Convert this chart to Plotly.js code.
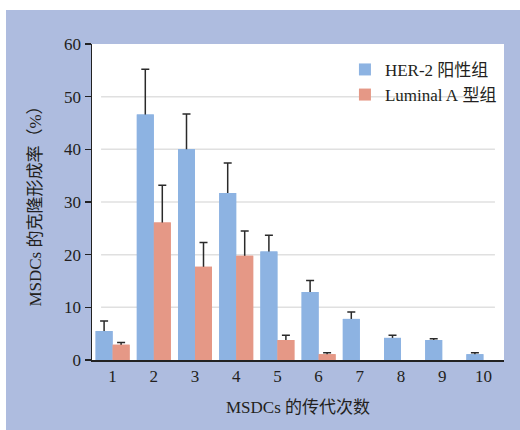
<!DOCTYPE html>
<html><head><meta charset="utf-8">
<script src="https://cdn.plot.ly/plotly-3.0.1.min.js"></script>
<style>html,body{margin:0;padding:0;background:#fff;}</style>
</head><body>
<div id="chart" style="width:520px;height:430px;"></div>
<script>
const passages = ["1","2","3","4","5","6","7","8","9","10"];
const her2Values = [5.5, 46.6, 40.0, 31.7, 20.6, 12.9, 7.8, 4.2, 3.8, 1.1];
const her2Errors = [1.9, 8.6, 6.7, 5.7, 3.1, 2.2, 1.3, 0.5, 0.25, 0.3];
const lumAValues = [2.9, 26.1, 17.7, 19.8, 3.8, 1.1, null, null, null, null];
const lumAErrors = [0.4, 7.1, 4.6, 4.7, 0.9, 0.3, null, null, null, null];
const yTicks = [0, 10, 20, 30, 40, 50, 60];
const seriesNames = ["HER-2 阳性组", "Luminal A 型组"];
const xTitle = "MSDCs 的传代次数";
const yTitle = "MSDCs 的克隆形成率（%）";

const FONT = '"Liberation Serif", "Noto Sans CJK SC", serif';
const TXT = '#231f20';
const BLUE = '#8db3e2', RED = '#e59886';
const errStyle = {type:'data', symmetric:true, color:'#2a2a2a', thickness:1.5, width:4};

// wrap Latin runs in a serif span so they do not fall back to the CJK font's Latin glyphs
function serifLatin(s) {
  return s.replace(/([A-Za-z0-9%\-][A-Za-z0-9%\- ]*[A-Za-z0-9%\-]|[A-Za-z0-9%\-])/g,
    '<span style="font-family:Liberation Serif">$1</span>');
}

const traces = [
  {type:'bar', name:serifLatin(seriesNames[0]), x:passages, y:her2Values, offsetgroup:'h', showlegend:false,
   marker:{color:BLUE}, error_y:Object.assign({}, errStyle, {array:her2Errors})},
  {type:'bar', name:serifLatin(seriesNames[1]), x:passages, y:lumAValues, offsetgroup:'l', showlegend:false,
   marker:{color:RED}, error_y:Object.assign({}, errStyle, {array:lumAErrors})},
  {type:'bar', name:serifLatin(seriesNames[0]), x:passages, y:her2Values, offsetgroup:'h',
   marker:{color:BLUE}},
  {type:'bar', name:serifLatin(seriesNames[1]), x:passages, y:lumAValues, offsetgroup:'l',
   marker:{color:RED}}
];

const shapes = [
  {type:'rect', xref:'paper', yref:'paper', x0:-1, x1:2, y0:(360-10)/316, y1:2, fillcolor:'#ffffff', line:{width:0}, layer:'below'},
  {type:'rect', xref:'paper', yref:'paper', x0:-1, x1:(6-92)/412, y0:-1, y1:2, fillcolor:'#ffffff', line:{width:0}, layer:'below'}
];
yTicks.filter(v => v > 0 && v < 60).forEach(v => shapes.push(
  {type:'line', xref:'paper', yref:'y', x0:0.022, x1:0.978, y0:v, y1:v, line:{color:'#e0e0e0', width:1.5}, layer:'below'}
));

const layout = {
  width:520, height:430,
  margin:{l:92, r:16, t:44, b:70},
  paper_bgcolor:'#aebcdf', plot_bgcolor:'#ffffff',
  font:{family:FONT, color:TXT, size:17},
  barmode:'group', bargap:0.175, bargroupgap:0,
  showlegend:true,
  legend:{x:0.995, xanchor:'right', y:0.975, yanchor:'top', bgcolor:'rgba(0,0,0,0)',
          font:{family:FONT, size:17, color:TXT}, itemwidth:30, tracegroupgap:0},
  xaxis:{type:'category', range:[-0.5, 9.5], showline:true, linecolor:'#222', linewidth:1.5,
         ticks:'', showgrid:false, zeroline:false, tickfont:{size:17},
         title:{text:serifLatin(xTitle), font:{size:17}, standoff:16}},
  yaxis:{range:[0,60], tickvals:yTicks, ticks:'outside', ticklen:6, tickwidth:1.5, tickcolor:'#222',
         showline:true, linecolor:'#222', linewidth:1.5, showgrid:false, zeroline:false,
         tickfont:{size:17}, title:{text:serifLatin(yTitle), font:{size:17}, standoff:18}},
  shapes:shapes
};
Plotly.newPlot('chart', traces, layout, {displayModeBar:false, staticPlot:true});
</script>
</body></html>
